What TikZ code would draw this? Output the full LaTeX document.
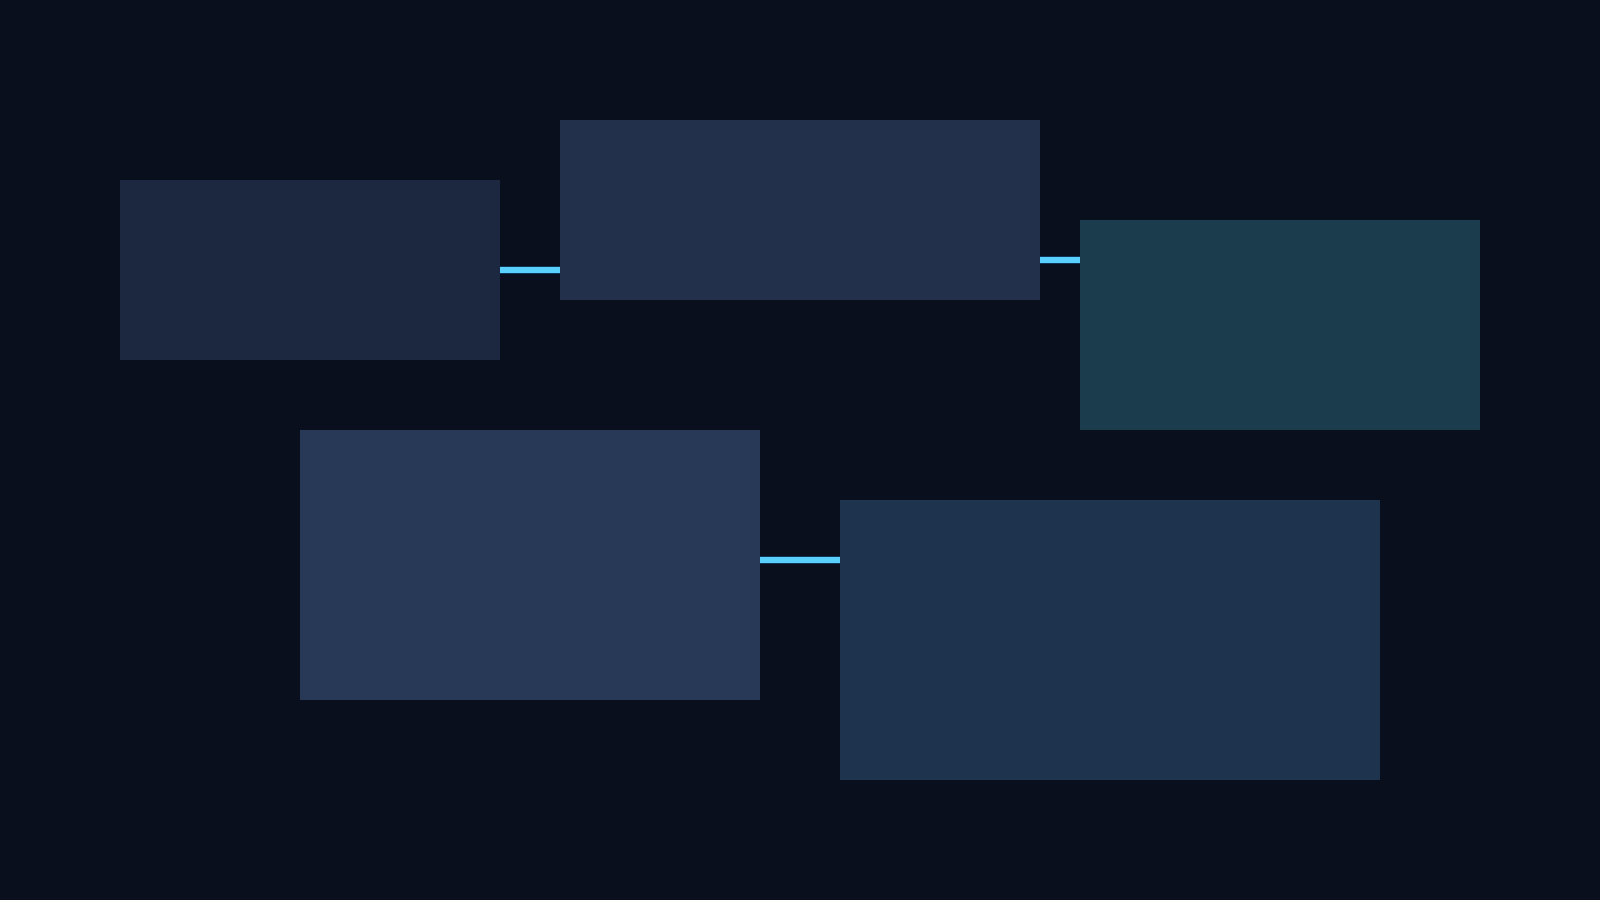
\documentclass[tikz,border=0pt]{standalone}
\definecolor{bgdark}{HTML}{0A0F1E}
\definecolor{fillsrc}{HTML}{1B2840}
\definecolor{fillmid}{HTML}{22304C}
\definecolor{fillout}{HTML}{1B3C4D}
\definecolor{filllow}{HTML}{283857}
\definecolor{fillend}{HTML}{1E334D}
\definecolor{wirecyan}{HTML}{5AD0FC}
\definecolor{wireedge}{HTML}{0E3556}
\begin{document}
\begin{tikzpicture}[x=0.01cm,y=-0.01cm,
  block/.style={anchor=north west,inner sep=0,outer sep=0,draw=none},
  wire/.style={line width=0.06cm,color=wirecyan,preaction={draw=wireedge,line width=0.08cm}}]
\fill [color=bgdark] (0, 0) rectangle (1600, 900);

\node (src) at (120, 180) [block,fill=fillsrc,minimum width=3.8cm,minimum height=1.8cm] {};
\node (mid) at (560, 120) [block,fill=fillmid,minimum width=4.8cm,minimum height=1.8cm] {};
\node (out) at (1080, 220) [block,fill=fillout,minimum width=4cm,minimum height=2.1cm] {};
\node (low) at (300, 430) [block,fill=filllow,minimum width=4.6cm,minimum height=2.7cm] {};
\node (end) at (840, 500) [block,fill=fillend,minimum width=5.4cm,minimum height=2.8cm] {};

\coordinate (row1) at (0, 270);
\coordinate (row2) at (0, 260);
\coordinate (row3) at (0, 560);
\draw [wire] (src.east |- row1) -- (mid.west |- row1);
\draw [wire] (mid.east |- row2) -- (out.west |- row2);
\draw [wire] (low.east |- row3) -- (end.west |- row3);
\end{tikzpicture}
\end{document}
